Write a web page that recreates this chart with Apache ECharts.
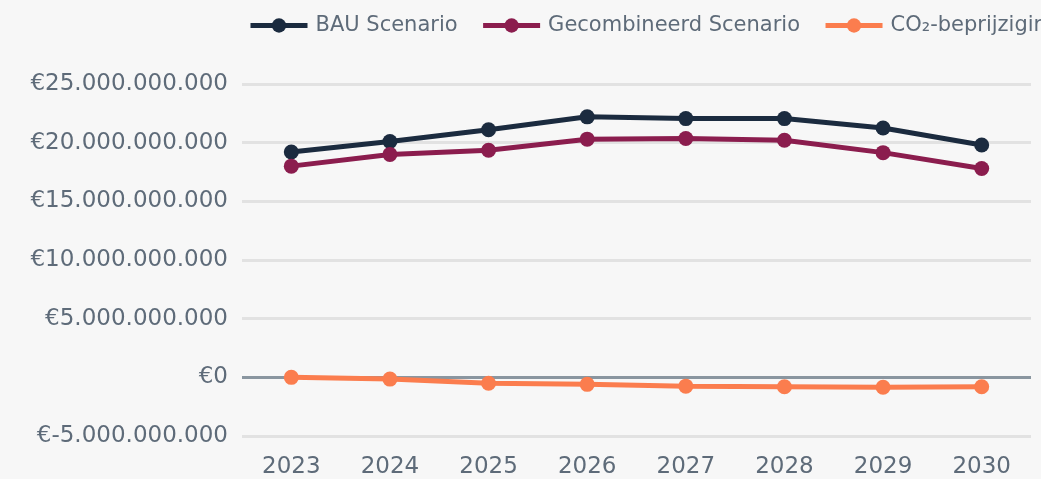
<!DOCTYPE html>
<html>
<head>
<meta charset="utf-8">
<script src="https://cdn.jsdelivr.net/npm/echarts@6/dist/echarts.min.js"></script>
<style>
  html, body { margin: 0; padding: 0; background: #f7f7f7; }
  #chart { width: 1041px; height: 479px; }
</style>
</head>
<body>
<div id="chart"></div>
<script>
const years = ['2023', '2024', '2025', '2026', '2027', '2028', '2029', '2030'];
const bauValues = [19.2e9, 20.1e9, 21.1e9, 22.2e9, 22.05e9, 22.05e9, 21.25e9, 19.8e9];
const combinedValues = [18.0e9, 19.0e9, 19.35e9, 20.3e9, 20.35e9, 20.2e9, 19.15e9, 17.8e9];
const co2Values = [0, -0.15e9, -0.5e9, -0.6e9, -0.75e9, -0.8e9, -0.85e9, -0.8e9];

const textColor = '#5e6b79';
const fontFamily = '"DejaVu Sans", "Open Sans", sans-serif';

const fmtEuro = (v) => {
  const sign = v < 0 ? '-' : '';
  const s = Math.abs(Math.round(v)).toString().replace(/\B(?=(\d{3})+(?!\d))/g, '.');
  return '€' + sign + s;
};

const chart = echarts.init(document.getElementById('chart'));

const mkSeries = (name, data, color) => ({
  name: name,
  type: 'line',
  data: data,
  symbol: 'circle',
  symbolSize: 15,
  color: color,
  lineStyle: { width: 5, color: color },
  itemStyle: { color: color },
  z: 3
});

chart.setOption({
  backgroundColor: '#f7f7f7',
  textStyle: { fontFamily: fontFamily },
  legend: {
    top: 10,
    left: 243,
    width: 2000,
    itemWidth: 57,
    itemHeight: 18,
    itemGap: 23,
    lineStyle: { width: 5 },
    textStyle: { color: textColor, fontSize: 21, fontFamily: fontFamily, padding: [0, 0, 0, 3] },
    data: ['BAU Scenario', 'Gecombineerd Scenario', 'CO₂-beprijziging']
  },
  grid: { left: 242, right: 10, top: 84, bottom: 43, containLabel: false },
  xAxis: {
    type: 'category',
    data: years,
    boundaryGap: true,
    axisLine: { show: false },
    axisTick: { show: false },
    axisLabel: { color: textColor, fontSize: 23, margin: 20, fontFamily: fontFamily }
  },
  yAxis: {
    type: 'value',
    min: -5e9,
    max: 25e9,
    interval: 5e9,
    axisLine: { show: false },
    axisTick: { show: false },
    axisLabel: { color: textColor, fontSize: 23, margin: 14, formatter: fmtEuro, fontFamily: fontFamily },
    splitLine: {
      lineStyle: {
        width: 3,
        color: ['#e2e2e2', '#8a96a0', '#e2e2e2', '#e2e2e2', '#e2e2e2', '#e2e2e2', '#e2e2e2']
      }
    }
  },
  series: [
    mkSeries('BAU Scenario', bauValues, '#1b2b3f'),
    mkSeries('Gecombineerd Scenario', combinedValues, '#8b1d4e'),
    mkSeries('CO₂-beprijziging', co2Values, '#fb7d4e')
  ]
});
</script>
</body>
</html>
